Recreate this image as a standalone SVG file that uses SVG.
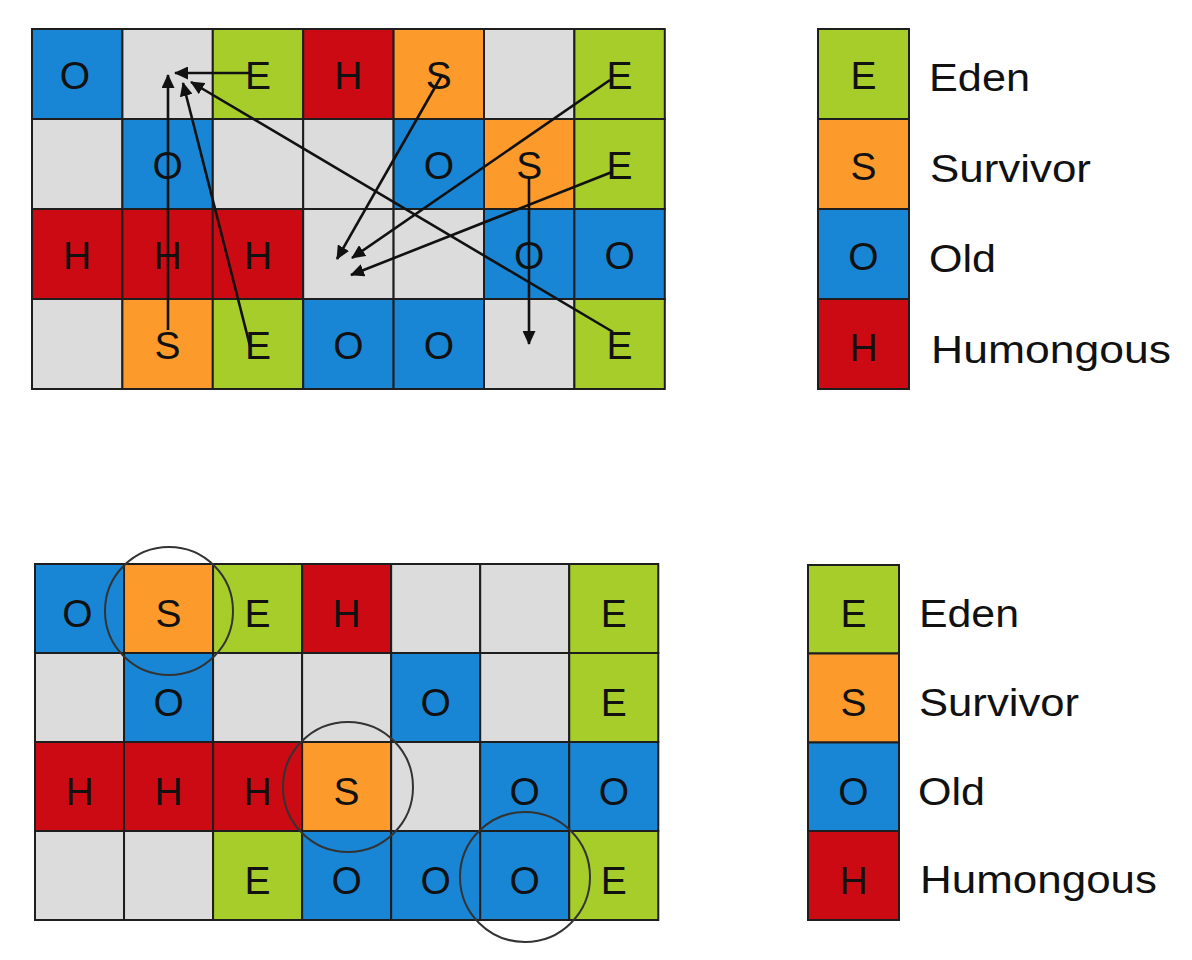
<svg xmlns="http://www.w3.org/2000/svg" width="1192" height="960" viewBox="0 0 1192 960">
<style>
.n,.e,.s,.o,.h{stroke:#1e1e1e;stroke-width:2}
.n{fill:#dcdcdc}.e{fill:#a7cd2b}.s{fill:#fc9b2b}.o{fill:#1886d5}.h{fill:#cc0a13}
text{font-family:"Liberation Sans",Arial,sans-serif;fill:#111}
.c{font-size:39px;text-anchor:middle}
.l{font-size:38px}
.a{stroke:#111;stroke-width:2.6;fill:none;marker-end:url(#ah)}
.ring{fill:none;stroke:#333;stroke-width:2}
</style>
<defs>
<marker id="ah" markerUnits="userSpaceOnUse" markerWidth="15" markerHeight="13" refX="13" refY="6.5" orient="auto" viewBox="0 0 15 13">
<path d="M0,0 L14,6.5 L0,13 z" fill="#111"/>
</marker>
</defs>
<rect x="0" y="0" width="1192" height="960" fill="#fff"/>

<!-- TOP GRID -->
<g id="top-grid">
<g id="t00"><rect class="o" x="32" y="29" width="90.4" height="90"/><text class="c" x="75" y="89">O</text></g>
<g id="t01"><rect class="n" x="122.4" y="29" width="90.4" height="90"/></g>
<g id="t02"><rect class="e" x="212.8" y="29" width="90.4" height="90"/><text class="c" x="258" y="89">E</text></g>
<g id="t03"><rect class="h" x="303.2" y="29" width="90.4" height="90"/><text class="c" x="348.4" y="89">H</text></g>
<g id="t04"><rect class="s" x="393.6" y="29" width="90.4" height="90"/><text class="c" x="438.8" y="89">S</text></g>
<g id="t05"><rect class="n" x="484" y="29" width="90.4" height="90"/></g>
<g id="t06"><rect class="e" x="574.4" y="29" width="90.4" height="90"/><text class="c" x="619.6" y="89">E</text></g>

<g id="t10"><rect class="n" x="32" y="119" width="90.4" height="90"/></g>
<g id="t11"><rect class="o" x="122.4" y="119" width="90.4" height="90"/><text class="c" x="167.6" y="179">O</text></g>
<g id="t12"><rect class="n" x="212.8" y="119" width="90.4" height="90"/></g>
<g id="t13"><rect class="n" x="303.2" y="119" width="90.4" height="90"/></g>
<g id="t14"><rect class="o" x="393.6" y="119" width="90.4" height="90"/><text class="c" x="438.8" y="179">O</text></g>
<g id="t15"><rect class="s" x="484" y="119" width="90.4" height="90"/><text class="c" x="529.2" y="179">S</text></g>
<g id="t16"><rect class="e" x="574.4" y="119" width="90.4" height="90"/><text class="c" x="619.6" y="179">E</text></g>

<g id="t20"><rect class="h" x="32" y="209" width="90.4" height="90"/><text class="c" x="77.2" y="269">H</text></g>
<g id="t21"><rect class="h" x="122.4" y="209" width="90.4" height="90"/><text class="c" x="167.6" y="269">H</text></g>
<g id="t22"><rect class="h" x="212.8" y="209" width="90.4" height="90"/><text class="c" x="258" y="269">H</text></g>
<g id="t23"><rect class="n" x="303.2" y="209" width="90.4" height="90"/></g>
<g id="t24"><rect class="n" x="393.6" y="209" width="90.4" height="90"/></g>
<g id="t25"><rect class="o" x="484" y="209" width="90.4" height="90"/><text class="c" x="529.2" y="269">O</text></g>
<g id="t26"><rect class="o" x="574.4" y="209" width="90.4" height="90"/><text class="c" x="619.6" y="269">O</text></g>

<g id="t30"><rect class="n" x="32" y="299" width="90.4" height="90"/></g>
<g id="t31"><rect class="s" x="122.4" y="299" width="90.4" height="90"/><text class="c" x="167.6" y="359">S</text></g>
<g id="t32"><rect class="e" x="212.8" y="299" width="90.4" height="90"/><text class="c" x="258" y="359">E</text></g>
<g id="t33"><rect class="o" x="303.2" y="299" width="90.4" height="90"/><text class="c" x="348.4" y="359">O</text></g>
<g id="t34"><rect class="o" x="393.6" y="299" width="90.4" height="90"/><text class="c" x="438.8" y="359">O</text></g>
<g id="t35"><rect class="n" x="484" y="299" width="90.4" height="90"/></g>
<g id="t36"><rect class="e" x="574.4" y="299" width="90.4" height="90"/><text class="c" x="619.6" y="359">E</text></g>
</g>

<!-- TOP LEGEND -->
<g id="top-legend">
<g id="tl-e"><rect class="e" x="818" y="29" width="91" height="90"/><text class="c" x="863.5" y="89">E</text><text class="l" x="929" y="91" textLength="101" lengthAdjust="spacingAndGlyphs">Eden</text></g>
<g id="tl-s"><rect class="s" x="818" y="119" width="91" height="90"/><text class="c" x="863.5" y="180">S</text><text class="l" x="930" y="182" textLength="161" lengthAdjust="spacingAndGlyphs">Survivor</text></g>
<g id="tl-o"><rect class="o" x="818" y="209" width="91" height="90"/><text class="c" x="863.5" y="270">O</text><text class="l" x="929" y="272" textLength="67" lengthAdjust="spacingAndGlyphs">Old</text></g>
<g id="tl-h"><rect class="h" x="818" y="299" width="91" height="90"/><text class="c" x="863.5" y="361">H</text><text class="l" x="931" y="363" textLength="240" lengthAdjust="spacingAndGlyphs">Humongous</text></g>
</g>

<!-- CONNECTORS -->
<g id="connectors">
<line class="a" x1="250" y1="73" x2="175" y2="73"/>
<line class="a" x1="168" y1="330" x2="168" y2="75"/>
<line class="a" x1="250" y1="346" x2="183" y2="83"/>
<line class="a" x1="613" y1="332" x2="191" y2="82"/>
<line class="a" x1="442" y1="75" x2="337" y2="259"/>
<line class="a" x1="610" y1="80" x2="352" y2="258"/>
<line class="a" x1="612" y1="172" x2="351" y2="275"/>
<line class="a" x1="529" y1="177" x2="529" y2="344"/>
</g>

<!-- BOTTOM GRID -->
<g id="bottom-grid">
<g id="b00"><rect class="o" x="35" y="564" width="89.04" height="89"/><text class="c" x="77.5" y="627">O</text></g>
<g id="b01"><rect class="s" x="124.04" y="564" width="89.04" height="89"/><text class="c" x="168.6" y="627">S</text></g>
<g id="b02"><rect class="e" x="213.08" y="564" width="89.04" height="89"/><text class="c" x="257.6" y="627">E</text></g>
<g id="b03"><rect class="h" x="302.12" y="564" width="89.04" height="89"/><text class="c" x="346.6" y="627">H</text></g>
<g id="b04"><rect class="n" x="391.16" y="564" width="89.04" height="89"/></g>
<g id="b05"><rect class="n" x="480.2" y="564" width="89.04" height="89"/></g>
<g id="b06"><rect class="e" x="569.24" y="564" width="89.04" height="89"/><text class="c" x="613.8" y="627">E</text></g>

<g id="b10"><rect class="n" x="35" y="653" width="89.04" height="89"/></g>
<g id="b11"><rect class="o" x="124.04" y="653" width="89.04" height="89"/><text class="c" x="168.6" y="716">O</text></g>
<g id="b12"><rect class="n" x="213.08" y="653" width="89.04" height="89"/></g>
<g id="b13"><rect class="n" x="302.12" y="653" width="89.04" height="89"/></g>
<g id="b14"><rect class="o" x="391.16" y="653" width="89.04" height="89"/><text class="c" x="435.7" y="716">O</text></g>
<g id="b15"><rect class="n" x="480.2" y="653" width="89.04" height="89"/></g>
<g id="b16"><rect class="e" x="569.24" y="653" width="89.04" height="89"/><text class="c" x="613.8" y="716">E</text></g>

<g id="b20"><rect class="h" x="35" y="742" width="89.04" height="89"/><text class="c" x="79.5" y="805">H</text></g>
<g id="b21"><rect class="h" x="124.04" y="742" width="89.04" height="89"/><text class="c" x="168.6" y="805">H</text></g>
<g id="b22"><rect class="h" x="213.08" y="742" width="89.04" height="89"/><text class="c" x="257.6" y="805">H</text></g>
<g id="b23"><rect class="s" x="302.12" y="742" width="89.04" height="89"/><text class="c" x="346.6" y="805">S</text></g>
<g id="b24"><rect class="n" x="391.16" y="742" width="89.04" height="89"/></g>
<g id="b25"><rect class="o" x="480.2" y="742" width="89.04" height="89"/><text class="c" x="524.7" y="805">O</text></g>
<g id="b26"><rect class="o" x="569.24" y="742" width="89.04" height="89"/><text class="c" x="613.8" y="805">O</text></g>

<g id="b30"><rect class="n" x="35" y="831" width="89.04" height="89"/></g>
<g id="b31"><rect class="n" x="124.04" y="831" width="89.04" height="89"/></g>
<g id="b32"><rect class="e" x="213.08" y="831" width="89.04" height="89"/><text class="c" x="257.6" y="894">E</text></g>
<g id="b33"><rect class="o" x="302.12" y="831" width="89.04" height="89"/><text class="c" x="346.6" y="894">O</text></g>
<g id="b34"><rect class="o" x="391.16" y="831" width="89.04" height="89"/><text class="c" x="435.7" y="894">O</text></g>
<g id="b35"><rect class="o" x="480.2" y="831" width="89.04" height="89"/><text class="c" x="524.7" y="894">O</text></g>
<g id="b36"><rect class="e" x="569.24" y="831" width="89.04" height="89"/><text class="c" x="613.8" y="894">E</text></g>
</g>

<!-- BOTTOM LEGEND -->
<g id="bottom-legend">
<g id="bl-e"><rect class="e" x="808" y="565" width="91" height="88.5"/><text class="c" x="853.5" y="627">E</text><text class="l" x="919" y="627" textLength="100" lengthAdjust="spacingAndGlyphs">Eden</text></g>
<g id="bl-s"><rect class="s" x="808" y="653.5" width="91" height="89"/><text class="c" x="853.5" y="716">S</text><text class="l" x="919" y="716" textLength="160" lengthAdjust="spacingAndGlyphs">Survivor</text></g>
<g id="bl-o"><rect class="o" x="808" y="742.5" width="91" height="88.5"/><text class="c" x="853.5" y="805">O</text><text class="l" x="918" y="805" textLength="67" lengthAdjust="spacingAndGlyphs">Old</text></g>
<g id="bl-h"><rect class="h" x="808" y="831" width="91" height="89"/><text class="c" x="853.5" y="894">H</text><text class="l" x="920" y="893" textLength="237" lengthAdjust="spacingAndGlyphs">Humongous</text></g>
</g>

<!-- HIGHLIGHT RINGS -->
<g id="rings">
<circle class="ring" cx="169" cy="611" r="64"/>
<circle class="ring" cx="348" cy="787" r="65"/>
<circle class="ring" cx="525" cy="877" r="65"/>
</g>
</svg>
